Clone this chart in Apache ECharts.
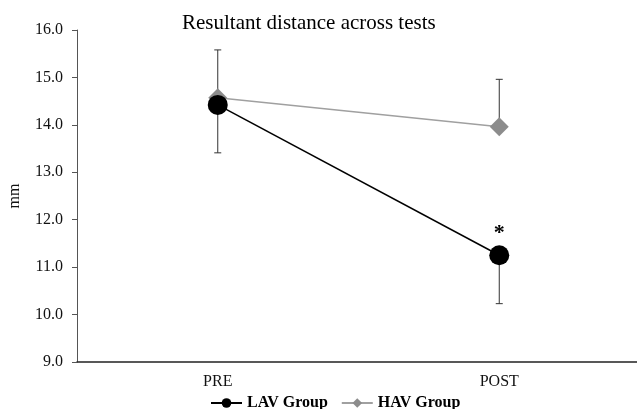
<!DOCTYPE html>
<html>
<head>
<meta charset="utf-8">
<script src="https://cdn.jsdelivr.net/npm/echarts@6/dist/echarts.min.js"></script>
<style>html,body{margin:0;padding:0;background:#fff}#c{width:637px;height:409px}</style>
</head>
<body>
<div id="c"></div>
<script>
var categories = ['PRE', 'POST'];
var lavValues = [14.42, 11.25];
var havValues = [14.57, 13.96];
var lavErrLower = [1.01, 1.02];
var havErrUpper = [1.01, 1.0];
var sigMarks = ['', '*'];
var yTicks = { min: 9, max: 16, interval: 1 };

var serif = '"Liberation Serif", "DejaVu Serif", serif';
var chart = echarts.init(document.getElementById('c'));

function errSeries(name, values, errs, dir, color) {
  return {
    type: 'custom',
    name: name + '_err',
    z: 1,
    silent: true,
    legendHoverLink: false,
    data: values.map(function (v, i) { return [i, v, errs[i]]; }),
    renderItem: function (params, api) {
      var i = api.value(0), v = api.value(1), e = api.value(2);
      var p1 = api.coord([i, v]);
      var p2 = api.coord([i, v + dir * e]);
      var w = 3.5;
      var st = { stroke: color, lineWidth: 1 };
      return {
        type: 'group',
        children: [
          { type: 'line', shape: { x1: p1[0], y1: p1[1], x2: p2[0], y2: p2[1] }, style: st },
          { type: 'line', shape: { x1: p2[0] - w, y1: p2[1], x2: p2[0] + w, y2: p2[1] }, style: st }
        ]
      };
    }
  };
}

chart.setOption({
  animation: false,
  title: {
    text: 'Resultant distance across tests',
    left: 177, top: 8,
    textStyle: { fontFamily: serif, fontSize: 21, fontWeight: 'normal', color: '#000' }
  },
  legend: {
    data: ['LAV Group', 'HAV Group'],
    bottom: -7, left: 205,
    itemWidth: 31, itemHeight: 12, itemGap: 13,
    textStyle: { fontFamily: serif, fontSize: 16, fontWeight: 'bold', color: '#000' }
  },
  grid: { left: 77, right: -3, top: 30, bottom: 47, outerBoundsMode: 'none', containLabel: false },
  xAxis: {
    type: 'category',
    data: categories,
    axisLine: { lineStyle: { color: '#222', width: 1.5 } },
    axisTick: { show: false },
    axisLabel: { fontFamily: serif, fontSize: 16, color: '#111', margin: 12 }
  },
  yAxis: {
    type: 'value',
    min: yTicks.min, max: yTicks.max, interval: yTicks.interval,
    name: 'mm', nameLocation: 'middle', nameGap: 54, nameRotate: 90,
    nameTextStyle: { fontFamily: serif, fontSize: 16, color: '#111' },
    axisLine: { show: true, lineStyle: { color: '#555', width: 1 } },
    axisTick: { show: true, length: 5, lineStyle: { color: '#555' } },
    splitLine: { show: false },
    axisLabel: {
      fontFamily: serif, fontSize: 16, color: '#111', margin: 14,
      formatter: function (v) { return v.toFixed(1); }
    }
  },
  series: [
    errSeries('LAV Group', lavValues, lavErrLower, -1, '#333'),
    errSeries('HAV Group', havValues, havErrUpper, 1, '#333'),
    {
      name: 'HAV Group', type: 'line', z: 3,
      data: havValues,
      symbol: 'diamond', symbolSize: 19,
      lineStyle: { color: '#a0a0a0', width: 1.5 },
      itemStyle: { color: '#8c8c8c' }
    },
    {
      name: 'LAV Group', type: 'line', z: 4,
      data: lavValues,
      symbol: 'circle', symbolSize: 20,
      lineStyle: { color: '#000', width: 1.5 },
      itemStyle: { color: '#000' },
      label: {
        show: true, position: 'top', distance: 1,
        fontFamily: serif, fontSize: 22, fontWeight: 'bold', color: '#000',
        formatter: function (p) { return sigMarks[p.dataIndex]; }
      }
    }
  ]
});
</script>
</body>
</html>
